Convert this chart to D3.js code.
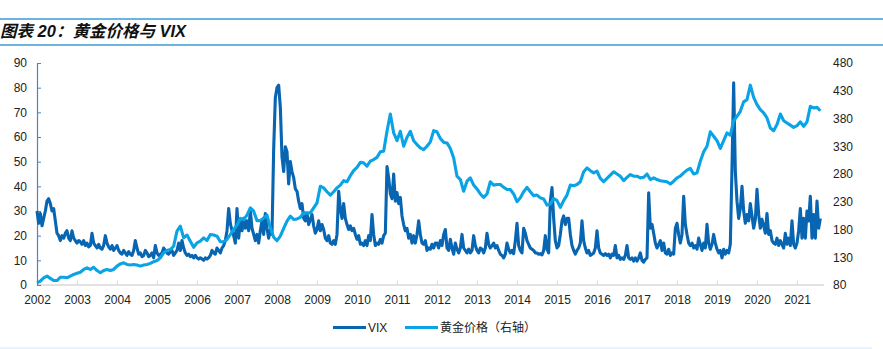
<!DOCTYPE html>
<html><head><meta charset="utf-8">
<script src="https://cdn.jsdelivr.net/npm/d3@7"></script>
<style>body{margin:0;background:#fff}svg{display:block}</style>
</head><body>
<svg id="c" width="883" height="349"></svg>
<script>
// ---- data ----
const yearLabels = [2002,2003,2004,2005,2006,2007,2008,2009,2010,2011,2012,2013,2014,2015,2016,2017,2018,2019,2020,2021];
const leftTicks = [0,10,20,30,40,50,60,70,80,90];
const rightTicks = [80,130,180,230,280,330,380,430,480];
const seriesNames = ["VIX", "黄金价格（右轴）"];
const titleText = "图表 20：黄金价格与 VIX";
const startYear = 2002;
const vixPerYear = 24;   // semi-monthly samples
const goldPerYear = 12;  // monthly samples

const vix2002_2006 = [
 30,25,29,24,27,30,34,35,33,30,31,26,21,20,18,20,19,21,22,19,18,22,19,18,
 17,18,17.5,16.5,18,16,17,15.5,16,21,17,16,15,16.5,15,14.5,16,20,17,15.5,14.5,16,14,15,
 16,14,13,12.5,14,13,12,13.5,12.5,12,14,18,15,12.5,13,11.5,12,14,13,11.5,12,13,11,16,
 13,12,12.5,13,15,14,13,12.5,13.5,14,12,13,14,17,14,18,15,13,12,12.5,11.5,12,11,12,
 11,10.5,11,10.5,10,11,10.5,11,12,14,13,12.5,15,14,13,15,16,18,22,31,25,22,20,17
];
const vix2007_2011 = [
 31,19,26,22,27,23,26,22,30,23,20.5,18,20.5,17,22,26,20.5,29,23,19,22.5,20.5,55,76,
 80,81,72,52,46,56,54,41,50,46,43.5,39,38,34,31,33,27,26,29,24.5,26.5,28.6,24,21,
 22.5,26,22,24.5,22.5,19,18,20,17,16.5,18,16.5,20.5,38,31,27,33,27,24.5,22.5,24,22,23,20.5,
 18.5,20,16.5,17,16,18,16,20,18,28.6,20.5,16,17,16.5,18.5,17,20,21,48,43.5,37,35,45,34,
 37.5,33,35.5,28,24.5,22,23,19,20.5,17,20,17,20.5,26,20.5,17,16.5,18,14,15,14.5,16.5,15,17
];
const vix2012_2016 = [
 17,15,18,16,20.5,22.5,15,14,18.5,15,12.5,17,14.5,13,15,20.5,15,14,13,14.5,13,14,20,16,
 14,13,15,14.5,13,15,21,16.5,15,16,17,15,16,14,12.5,12,11,12.5,17,14.5,13,14,12.7,18,
 25,16,14,13,23,21,18,16.5,15,14.5,14,13,13,12.5,12.7,12.2,14,20,14.5,13,34,39.5,27,18,
 15,16,20.5,26,28,24.5,27,27,20.5,16,14,12.5,14,15,17,26,18,15,13,14,12,12.5,13,15,
 22,15,13,12.5,12,12.7,12,12.5,11,12.5,12,16,11,12,10.4,11,10.4,12,16,11,10.4,11,9.7,11
];
const vix2017_2021 = [
 9.7,11,13,10,9.3,10.4,11,37.4,23,24.6,21,17,15,16.5,18,14,17,13,12.5,14.5,12,13,12.5,23,
 25,20.5,17,20.5,36,24.6,20.5,17,16,17,15,16,14.5,19,16.5,14,17,15,24.6,17,14.5,16.5,20.5,17,
 14.5,13,14,11,14.5,12.5,14,13,16.5,47.6,82,46,34,27,31,40,30,25,28.6,26,33,28,23,26.6,
 38.8,28.6,23,26.6,24,21,29,20.5,22,18,17,16.5,19,16,18,16.5,15,21,16.5,19,16,26,16.5,15,
 17,22,31,19,27,19,30,26,36,19,28.6,19,34,23,27
];

const gold2002_2006 = [
 84,87,93,96,92,88,88,94,94,93,96,99,
 101,103,108,111,108,112,106,102,106,108,106,108,
 114,118,120,117,116,117,116,114,116,117,119,122,
 124,129,138,142,144,150,177,186,165,170,159,148,
 156,159,165,160,171,170,168,158,158,162,171,180
];
const gold2007_2011 = [
 188,200,198,206,219,213,196,196,201,206,183,166,
 160,168,182,195,204,198,199,202,210,210,210,219,
 228,258,255,248,242,248,255,260,268,266,277,286,
 292,301,300,294,303,306,310,320,321,357,388,354,
 340,357,330,346,357,340,333,327,324,330,338,358
];
const gold2012_2016 = [
 356,344,337,336,326,309,276,270,249,267,273,260,
 253,244,238,244,266,260,261,261,256,252,252,244,
 230,237,248,256,248,241,242,237,235,224,226,236,
 232,220,232,242,260,259,261,266,284,291,286,282,
 285,272,266,272,278,284,280,276,268,274,279,276
];
const gold2017_2021 = [
 276,273,274,280,270,273,270,268,267,266,262,267,
 273,276,282,287,290,280,282,303,320,330,356,348,
 340,326,340,354,350,376,384,393,410,414,440,418,
 405,396,390,381,363,358,369,388,376,372,368,364,
 367,374,366,374,402,399,400,394
];

const vix = [].concat(vix2002_2006, vix2007_2011, vix2012_2016, vix2017_2021);
const gold = [].concat(gold2002_2006, gold2007_2011, gold2012_2016, gold2017_2021);

// ---- chart ----
const W = 883, H = 349;
const colVix = "#0865b1", colGold = "#0aa3e6", axisBlue = "#4f82c4", titleBlue = "#3d9ad6";
const font = "'Liberation Sans', Arial, 'Noto Sans CJK SC', sans-serif";
const svg = d3.select("#c");

const x = d3.scaleLinear().domain([2002, 2022]).range([37, 837]);
const yL = d3.scaleLinear().domain([0, 90]).range([285, 63]);
const yR = d3.scaleLinear().domain([80, 480]).range([285, 63]);
const endT = startYear + vix.length / vixPerYear;

// title lines + title
svg.append("line").attr("x1",0).attr("x2",W).attr("y1",19).attr("y2",19)
  .attr("stroke",titleBlue).attr("stroke-width",1.3);
svg.append("line").attr("x1",0).attr("x2",W).attr("y1",45).attr("y2",45)
  .attr("stroke",titleBlue).attr("stroke-width",1.3);
svg.append("text").attr("x",0).attr("y",37).text(titleText)
  .attr("font-family",font).attr("font-size",16.5).attr("font-weight","bold")
  .attr("font-style","italic").attr("fill","#111");
svg.append("line").attr("x1",0).attr("x2",872).attr("y1",348).attr("y2",348)
  .attr("stroke","#cfe8f7").attr("stroke-width",1);

// bottom axis
const gx = svg.append("g").attr("transform","translate(0,285)")
  .call(d3.axisBottom(x).tickValues(yearLabels).tickFormat(d3.format("d"))
    .tickSize(-4).tickSizeOuter(0).tickPadding(10));
gx.select(".domain").remove();
gx.append("line").attr("x1",x(startYear)).attr("x2",x(endT)+2).attr("y1",0).attr("y2",0)
  .attr("stroke","#d9d9d9").attr("stroke-width",1.5);
gx.selectAll(".tick line").attr("stroke","#d9d9d9");
gx.selectAll("text").attr("font-family",font).attr("font-size",12).attr("fill","#222");

// left axis
const gl = svg.append("g").attr("transform","translate(37,0)")
  .call(d3.axisLeft(yL).tickValues(leftTicks).tickSize(-4).tickSizeOuter(0).tickPadding(10));
gl.select(".domain").attr("stroke",axisBlue).attr("stroke-width",1.2);
gl.selectAll(".tick line").attr("stroke",axisBlue);
gl.selectAll("text").attr("font-family",font).attr("font-size",12).attr("fill","#222");

// right axis (labels only)
const gr = svg.append("g").attr("transform","translate(833,0)")
  .call(d3.axisRight(yR).tickValues(rightTicks).tickSize(0).tickPadding(0));
gr.select(".domain").remove();
gr.selectAll("text").attr("font-family",font).attr("font-size",12).attr("fill","#222");

// lines
const lineV = d3.line().x((d,i)=>x(startYear + i/vixPerYear)).y(d=>yL(d));
const lineG = d3.line().x((d,i)=>x(startYear + i/goldPerYear)).y(d=>yR(d));
svg.append("path").datum(vix).attr("d",lineV).attr("fill","none")
  .attr("stroke",colVix).attr("stroke-width",3.1).attr("stroke-linejoin","round");
svg.append("path").datum(gold).attr("d",lineG).attr("fill","none")
  .attr("stroke",colGold).attr("stroke-width",3.1).attr("stroke-linejoin","round");

// legend
const leg = [{name:seriesNames[0], c:colVix, x0:333}, {name:seriesNames[1], c:colGold, x0:405}];
leg.forEach(l=>{
  svg.append("line").attr("x1",l.x0).attr("x2",l.x0+33).attr("y1",327.5).attr("y2",327.5)
    .attr("stroke",l.c).attr("stroke-width",3.2);
  svg.append("text").attr("x",l.x0+35).attr("y",327.5).attr("dominant-baseline","central")
    .text(l.name).attr("font-family",font).attr("font-size",12).attr("fill","#222");
});
</script>
</body></html>
